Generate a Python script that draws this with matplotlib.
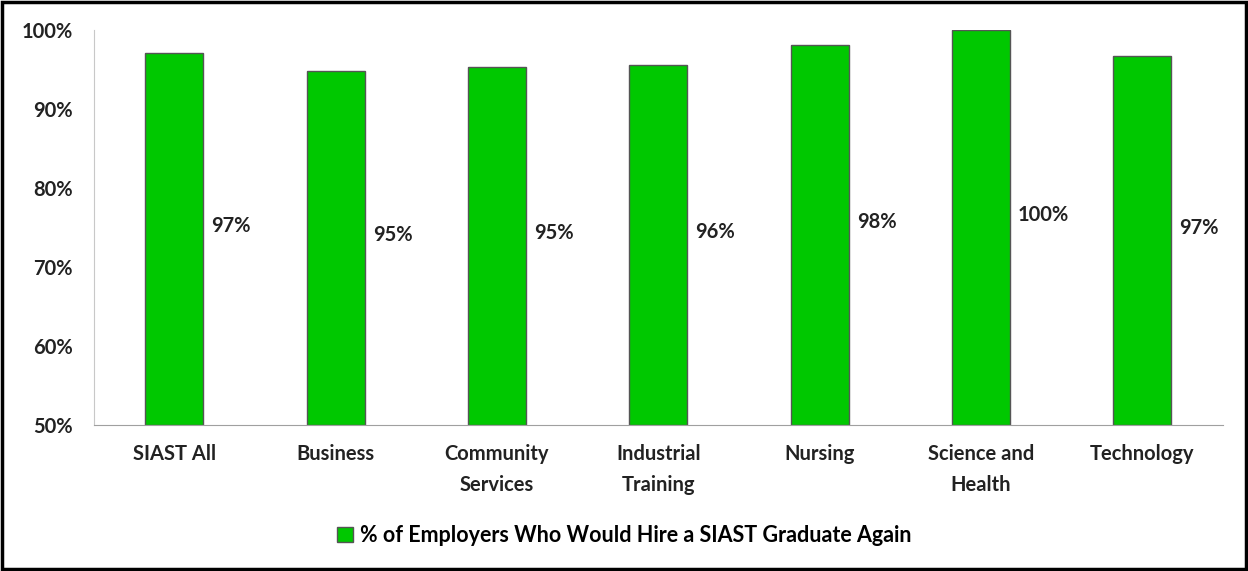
import numpy as np
from matplotlib import pyplot as plt
from matplotlib.patches import Rectangle

# 数据
categories = ["SIAST All", "Business", "Community\nServices", "Industrial\nTraining",
              "Nursing", "Science and\nHealth", "Technology"]
values = [97.1, 94.8, 95.3, 95.6, 98.1, 100.0, 96.7]
labels = ["97%", "95%", "95%", "96%", "98%", "100%", "97%"]
series_name = "% of Employers Who Would Hire a SIAST Graduate Again"

plt.rcParams['font.family'] = ['Lato', 'DejaVu Sans']
plt.rcParams['font.weight'] = 'bold'
fs = 14.5

fig = plt.figure(figsize=(12.48, 5.71), dpi=100)
ax = fig.add_axes([0.075, 0.2557, 0.905, 0.6918])

x = np.arange(len(categories))
w = 0.36
bars = ax.bar(x, np.array(values) - 50, w, bottom=50, color='#00c800',
              edgecolor='#555555', linewidth=1.0, label=series_name)

# 数据标签
for i, v in enumerate(values):
    ax.text(x[i] + w / 2 + 0.05, (v + 50) / 2 + 1.6, labels[i],
            ha='left', va='center', fontsize=fs, fontweight='bold', color='#222222')

ax.set_ylim(50, 100)
ax.set_xlim(-0.5, len(categories) - 0.5)
ax.set_yticks(range(50, 101, 10))
ax.set_yticklabels(["{}%".format(t) for t in range(50, 101, 10)])
ax.set_xticks(x)
ax.set_xticklabels(categories, linespacing=1.65, va='top')
ax.tick_params(axis='both', length=0, labelsize=fs, colors='#222222')
ax.tick_params(axis='y', pad=15)
ax.tick_params(axis='x', pad=14)

ax.spines['right'].set_visible(False)
ax.spines['top'].set_visible(False)
ax.spines['left'].set_color('#c8c8c8')
ax.spines['bottom'].set_color('#a0a0a0')

fig.legend(loc='center', bbox_to_anchor=(0.5, 0.062), frameon=False,
           fontsize=15.5, handlelength=0.75, handleheight=0.75, handletextpad=0.3)

# 外框
fig.patches.append(Rectangle((0.002, 0.004), 0.996, 0.992, transform=fig.transFigure,
                             fill=False, edgecolor='black', linewidth=2.5))

fig.savefig("out.png", dpi=100)
